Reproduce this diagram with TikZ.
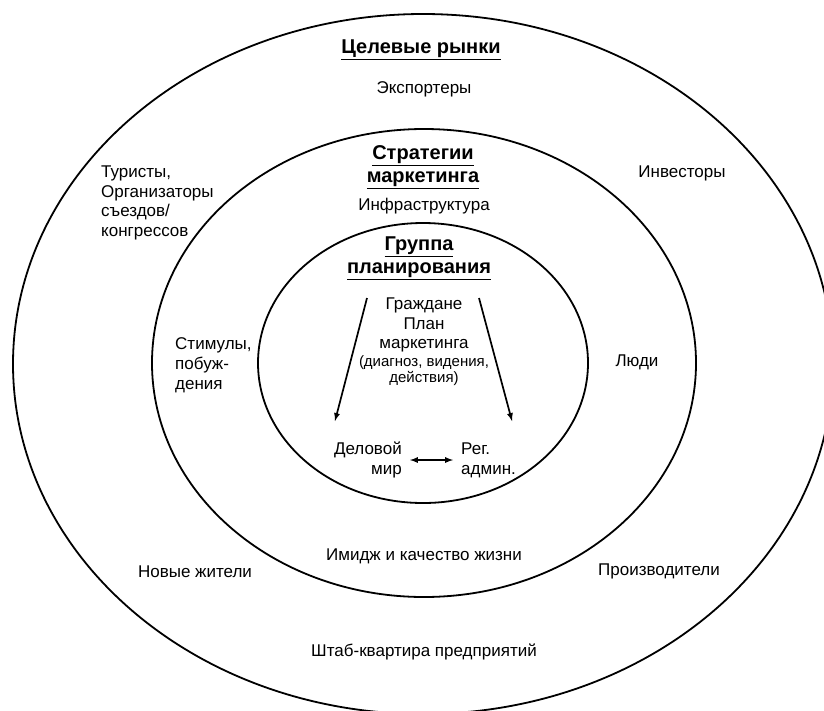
\documentclass[tikz,border=0pt]{standalone}
\usepackage{fontspec}
\setmainfont{Liberation Sans}
\usetikzlibrary{arrows, positioning}

\begin{document}
\begin{tikzpicture}
    [
        x=1pt, y=-1pt,
        ring/.style={line width=1.8pt},
        txt/.style={inner sep=0pt, font=\fontsize{17}{19.8}\selectfont, align=center},
        ttl/.style={inner sep=0pt, font=\bfseries\fontsize{20}{23}\selectfont, align=center},
        small/.style={inner sep=0pt, font=\fontsize{15}{16}\selectfont, align=center},
        flow/.style={-latex, line width=1.7pt},
    ]
    \useasboundingbox (0,0) rectangle (824,710);
    \fill[white] (0,0) rectangle (824,710);
    \draw[ring] (423,364) ellipse (410 and 350);
    \draw[ring] (424,363) ellipse (272 and 234);
    \draw[ring] (423,363) ellipse (165 and 140);

    \node[ttl] (markets) at (421,50) {\underline{Целевые рынки}};
    \node[txt] (export) at (424,89) {Экспортеры};
    \node[txt, align=left, anchor=west] (tourist) at (101,203) {Туристы,\\Организаторы\\съездов/\\конгрессов};
    \node[txt] (invest) at (682,173) {Инвесторы};
    \node[txt] (newres) at (195,572) {Новые жители};
    \node[txt] (produce) at (659,571) {Производители};
    \node[txt] (hq) at (424,652) {Штаб-квартира предприятий};

    \node[ttl] (strat) at (423,167) {\underline{Стратегии}\\\underline{маркетинга}};
    \node[txt] (infra) at (424,206) {Инфраструктура};
    \node[txt, align=left, anchor=west] (stim) at (175,365) {Стимулы,\\побуж-\\дения};
    \node[txt] (people) at (637,362) {Люди};
    \node[txt] (image) at (424,556) {Имидж и качество жизни};

    \node[ttl] (group) at (419,258) {\underline{Группа}\\\underline{планирования}};
    \node[txt] (plan) at (424,325) {Граждане\\План\\маркетинга};
    \node[small, below=3pt of plan] (diag) {(диагноз, видения,\\действия)};
    \node[txt, align=right, anchor=east] (biz) at (402,460) {Деловой\\мир};
    \node[txt, align=left, anchor=west] (reg) at (461,460) {Рег.\\админ.};

    \coordinate (lt) at (367,298);
    \coordinate (lb) at (335,421);
    \coordinate (rt) at (479,298);
    \coordinate (rb) at (512,421);
    \draw[flow] (lt) -- (lb);
    \draw[flow] (rt) -- (rb);
    \draw[flow, latex-latex, shorten <=8pt, shorten >=8pt] (biz) -- (reg);
\end{tikzpicture}
\end{document}
